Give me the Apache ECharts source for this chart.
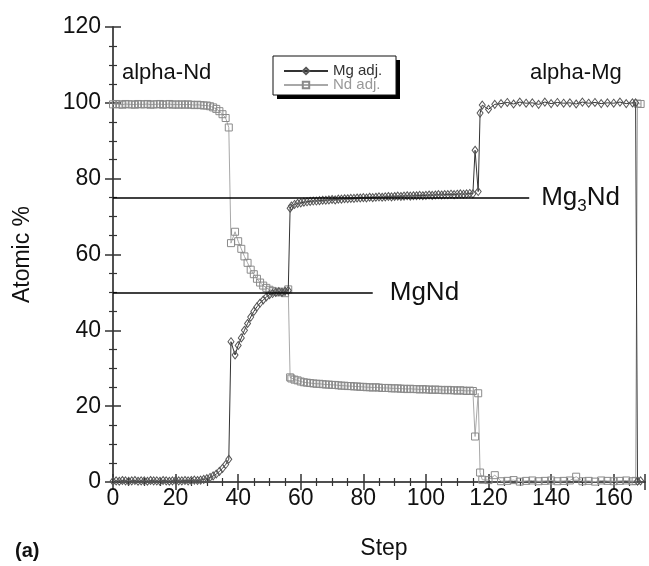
<!DOCTYPE html>
<html>
<head>
<meta charset="utf-8">
<script src="https://cdn.jsdelivr.net/npm/echarts@6/dist/echarts.min.js"></script>
<style>
html,body{margin:0;padding:0;background:#fff;}
#chart{width:649px;height:566px;}
</style>
</head>
<body>
<div id="chart"></div>
<script>
// ---- data ----
const steps = [
  0,1,2,3,4,5,6,7,8,9,10,11,12,13,14,15,16,17,18,19,20,21,22,23,24,25,26,27,28,29,30,31,32,33,34,35,36,
  37,37.7,39,
  40,41,42,43,44,45,46,47,48,49,50,51,52,53,54,55,56,
  56.6,
  57,58,59,60,61,62,63,64,65,66,67,68,69,70,71,72,73,74,75,76,77,78,79,80,81,82,83,84,85,86,
  87,88,89,90,91,92,93,94,95,96,97,98,99,100,101,102,103,104,105,106,107,108,109,110,111,112,113,114,115,
  115.7,116.7,117.3,
  118,120,122,124,126,128,130,132,134,136,138,140,142,144,146,148,150,152,154,156,158,160,162,164,166,
  167,167.6,168.6
];
const mgValues = [
  0.2,0.3,0.2,0.4,0.3,0.2,0.3,0.4,0.2,0.3,0.3,0.2,0.4,0.3,0.3,0.2,0.4,0.3,0.2,0.3,0.4,0.3,0.3,0.4,0.3,0.4,0.5,0.4,0.5,0.7,0.9,1.2,1.6,2.1,2.8,3.6,4.6,
  6.0,37.0,33.5,
  36.0,38.0,40.0,41.8,43.5,45.0,46.2,47.2,48.0,48.8,49.4,49.7,50.0,50.2,50.0,50.3,50.5,
  72.2,
  72.8,73.2,73.5,73.6,73.8,73.9,74.0,74.1,74.1,74.2,74.3,74.3,74.4,74.5,74.4,74.6,74.6,74.7,74.7,74.8,74.8,74.9,74.9,75.0,74.9,75.1,75.0,75.1,75.2,75.1,
  75.2,75.3,75.2,75.3,75.4,75.3,75.4,75.5,75.4,75.5,75.5,75.6,75.5,75.6,75.7,75.6,75.7,75.8,75.7,75.8,75.8,75.9,75.8,75.9,76.0,75.9,76.0,76.1,76.0,
  87.5,76.6,97.3,
  99.4,98.3,99.6,99.8,100.1,99.7,100.2,99.9,100.0,99.6,100.2,99.8,100.1,99.9,100.0,99.7,100.2,99.9,100.1,99.8,100.0,99.9,100.2,99.8,100.0,
  100.0,0.2,0.3
];
const ndValues = [
  99.6,99.7,99.6,99.5,99.7,99.6,99.6,99.5,99.7,99.6,99.6,99.7,99.5,99.6,99.6,99.7,99.5,99.6,99.7,99.5,99.6,99.5,99.6,99.5,99.6,99.5,99.4,99.5,99.4,99.3,99.3,99.1,98.8,98.4,97.8,97.0,96.0,
  93.5,63.0,66.0,
  63.5,61.5,59.5,57.8,56.0,54.8,53.6,52.6,51.8,51.2,50.7,50.4,50.2,50.0,50.2,49.8,50.8,
  27.6,
  27.3,27.0,26.8,26.5,26.3,26.2,26.1,26.0,25.9,25.9,25.8,25.7,25.7,25.6,25.6,25.5,25.4,25.4,25.3,25.3,25.2,25.2,25.1,25.1,25.0,25.0,24.9,25.0,24.9,24.8,
  24.8,24.8,24.7,24.7,24.7,24.6,24.6,24.5,24.6,24.5,24.5,24.4,24.5,24.4,24.4,24.3,24.4,24.3,24.3,24.2,24.3,24.2,24.2,24.1,24.2,24.1,24.0,24.1,24.0,
  12.0,23.4,2.5,
  0.6,0.5,1.8,0.2,0.3,0.5,0.1,0.3,0.4,0.2,0.3,0.4,0.2,0.3,0.4,1.4,0.2,0.3,0.1,0.4,0.3,0.2,0.3,0.4,0.2,
  0.3,99.8,99.7
];
const seriesNames = ['Mg adj.', 'Nd adj.'];
// compound reference lines: level (Atomic %) and step where the line ends
const phaseLabels = ['Mg{s|3}Nd', 'MgNd'];
const phaseLevels = [75, 50];
const phaseEnds = [133, 83];
const regionLabels = ['alpha-Nd', 'alpha-Mg'];
const xTicks = {min: 0, max: 170, interval: 20};
const yTicks = {min: 0, max: 120, interval: 20};

// ---- build ----
const FONT = 'Liberation Sans, Arial, Helvetica, sans-serif';
const mgData = steps.map((s, i) => [s, mgValues[i]]);
const ndData = steps.map((s, i) => [s, ndValues[i]]);

const frameLine = {show: true, lineStyle: {color: '#444', width: 1.5}};
const tick = {show: true, inside: true, length: 8, lineStyle: {color: '#333', width: 1.5}};
const minor = {show: true, splitNumber: 4, length: 4, lineStyle: {color: '#333', width: 1.2}};

const chart = echarts.init(document.getElementById('chart'), null, {renderer: 'canvas'});
chart.setOption({
  animation: false,
  backgroundColor: '#fff',
  grid: {left: 113, right: 4, top: 27, bottom: 84, containLabel: false},
  xAxis: [
    {
      type: 'value', position: 'bottom', min: xTicks.min, max: xTicks.max, interval: xTicks.interval,
      name: 'Step', nameLocation: 'middle', nameGap: 55,
      nameTextStyle: {fontFamily: FONT, fontSize: 23, color: '#111', padding: [0, 0, 0, 10]},
      axisLine: frameLine, axisTick: tick, minorTick: minor,
      axisLabel: {fontFamily: FONT, fontSize: 23, color: '#111', margin: 5, showMaxLabel: false},
      splitLine: {show: false}
    },
    {
      type: 'value', position: 'top', min: xTicks.min, max: xTicks.max, interval: xTicks.interval,
      axisLine: frameLine, axisTick: tick, minorTick: minor,
      axisLabel: {show: false}, splitLine: {show: false}
    }
  ],
  yAxis: [
    {
      type: 'value', position: 'left', min: yTicks.min, max: yTicks.max, interval: yTicks.interval,
      name: 'Atomic %', nameLocation: 'middle', nameGap: 79,
      nameTextStyle: {fontFamily: FONT, fontSize: 23, color: '#111'},
      axisLine: frameLine, axisTick: tick, minorTick: minor,
      axisLabel: {fontFamily: FONT, fontSize: 23, color: '#111', margin: 12},
      splitLine: {show: false}
    },
    {
      type: 'value', position: 'right', min: yTicks.min, max: yTicks.max, interval: yTicks.interval,
      axisLine: frameLine, axisTick: tick, minorTick: minor,
      axisLabel: {show: false}, splitLine: {show: false}
    }
  ],
  legend: {
    left: 283, top: 63, orient: 'vertical', z: 10,
    data: [
      {name: seriesNames[0], textStyle: {color: '#333'}},
      {name: seriesNames[1], textStyle: {color: '#999'}}
    ],
    itemWidth: 44, itemHeight: 8, itemGap: -2,
    padding: 0,
    textStyle: {fontFamily: 'Liberation Sans Narrow, Liberation Sans, Arial, sans-serif', fontSize: 15, lineHeight: 16}
  },
  graphic: [
    {type: 'rect', z: 5, shape: {x: 277, y: 60, width: 123, height: 39}, style: {fill: '#000'}},
    {type: 'rect', z: 6, shape: {x: 273, y: 56, width: 123, height: 39}, style: {fill: '#fff', stroke: '#111', lineWidth: 1}},
    {type: 'text', left: 122, top: 62, style: {text: regionLabels[0], font: '22px ' + FONT, fill: '#111'}},
    {type: 'text', left: 530, top: 62, style: {text: regionLabels[1], font: '22px ' + FONT, fill: '#111'}},
    {type: 'text', left: 15, top: 541, style: {text: '(a)', font: 'bold 20px ' + FONT, fill: '#111'}}
  ],
  series: [
    {
      name: seriesNames[1], type: 'line', data: ndData,
      symbol: 'rect', symbolSize: 7,
      lineStyle: {color: '#a8a8a8', width: 1},
      itemStyle: {color: 'rgba(255,255,255,0)', borderColor: '#8a8a8a', borderWidth: 1},
      emphasis: {disabled: true}, z: 2
    },
    {
      name: seriesNames[0], type: 'line', data: mgData,
      symbol: 'diamond', symbolSize: [6, 8],
      lineStyle: {color: '#333', width: 1},
      itemStyle: {color: 'rgba(255,255,255,0)', borderColor: '#555', borderWidth: 1},
      emphasis: {disabled: true}, z: 3,
      markLine: {
        silent: true, symbol: 'none',
        lineStyle: {color: '#000', width: 1.6, type: 'solid'},
        label: {
          show: true, position: 'end', distance: 12,
          fontFamily: FONT, fontSize: 26, color: '#111',
          rich: {s: {fontFamily: FONT, fontSize: 17, color: '#111', verticalAlign: 'bottom', padding: [18, 0, 0, 0]}}
        },
        data: phaseLevels.map((lv, i) => [
          {coord: [0, lv], label: {formatter: phaseLabels[i], distance: i === 0 ? 12 : 17}},
          {coord: [phaseEnds[i], lv]}
        ])
      }
    }
  ]
});
</script>
</body>
</html>
